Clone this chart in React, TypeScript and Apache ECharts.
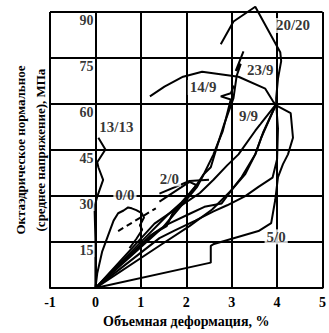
import React, { useEffect, useRef } from "react";
import * as echarts from "echarts";

const yTickValues = [15, 30, 45, 60, 75, 90];

const curve13_13 = [[0, 0], [0, 7.4], [0, 16], [-0.02, 26.6], [0.04, 29.8], [0.17, 35.3], [0.065, 39.4], [0.04, 41], [0.22, 45.2], [0.065, 49]];
const curve0_0 = [[0, 0], [0.04, 4.8], [0.15, 12], [0.3, 18], [0.4, 22], [0.5, 24.4], [0.62, 25.3], [0.72, 26.3], [0.8, 26], [0.9, 25.4], [1.02, 24.4], [1.07, 23], [0.98, 20.5], [1.03, 19], [0.9, 16], [0.75, 13]];
const curve0_0dash = [[0.5, 18.6], [1.33, 26]];
const curve2_0 = [[0, 0], [0.7, 10], [1.3, 17.9], [1.57, 20.2], [1.7, 24.4], [1.89, 27.6], [2.07, 30.8], [2.22, 33.6], [2.07, 34.6], [1.41, 28.2]];
const curve2_0b = [[1.41, 30.8], [2.07, 34.9], [2.5, 35.3]];
const curve5_0 = [[0, 0], [2.54, 8.3], [2.54, 13.8], [2.61, 14.4], [3.59, 18.6], [3.87, 21.2], [3.96, 28.8], [4.02, 36.2], [4.13, 40.4], [4.24, 43.6], [4.35, 49], [4.3, 57], [3.98, 59.6]];
const curveA = [[0, 0], [1.41, 13.8], [2.07, 20.2], [2.57, 25.6], [3.0, 32], [3.22, 36.2], [3.52, 43.6], [3.7, 51], [3.98, 60]];
const curveB = [[0, 0], [1.41, 16.3], [1.75, 18.8], [2.2, 22], [2.6, 25], [2.9, 27], [3.3, 30], [3.59, 33], [3.9, 36], [4.0, 42], [4.02, 52], [3.98, 60]];
const curveC = [[0, 0], [1.2, 17], [1.55, 20.5], [2.1, 24.4], [2.4, 26.5], [2.78, 27.6], [3.0, 32], [3.3, 37.2], [3.52, 43.6], [3.65, 49], [3.98, 60]];
const curve9_9 = [[0, 0], [1.3, 21], [1.75, 25.6], [2.0, 28], [2.3, 31], [2.6, 35.3], [2.9, 40], [3.15, 43.6], [3.52, 51.3], [3.98, 60]];
const curve14_9a = [[0, 0], [1.0, 15], [1.6, 24], [1.9, 28], [2.2, 33], [2.4, 37.5], [2.6, 43.6], [2.7, 47.4], [2.8, 51], [2.98, 61.5], [2.76, 62.5], [2.98, 63.5], [3.05, 66]];
const curve14_9 = [[1.2, 62.5], [1.52, 65.7], [1.93, 68.9], [2.35, 70.5], [3.15, 68.9], [3.74, 65], [3.91, 60.9], [3.98, 59.6]];
const curve23_9 = [[0, 0], [0.9, 12], [1.5, 20], [2.0, 28.8], [2.24, 33], [2.39, 37.2], [2.54, 39.4], [2.67, 45.8], [2.83, 53.2], [3.04, 61.9], [3.11, 69.2], [3.2, 73.1], [3.09, 70.8], [3.26, 77.2]];
const curve20_20 = [[3.98, 59.6], [3.98, 61.9], [4.02, 68.3], [4.09, 74], [4.07, 76.9], [3.52, 91.7], [3.04, 86.9], [2.76, 79.5]];

const curveLabels: [number, number, string][] = [
  [0.46, 52.6, "13/13"],
  [0.65, 30.4, "0/0"],
  [1.63, 35.6, "2/0"],
  [2.37, 65.4, "14/9"],
  [3.63, 71.2, "23/9"],
  [4.35, 85.6, "20/20"],
  [3.37, 56.1, "9/9"],
  [3.98, 16.7, "5/0"],
];

const FONT = "Times New Roman, Liberation Serif, DejaVu Serif, serif";

export default function App() {
  const ref = useRef<HTMLDivElement>(null);
  useEffect(() => {
    if (!ref.current) return;
    const chart = echarts.init(ref.current, null, { renderer: "svg" });
    const lineStyle = { color: "#000", width: 2 };
    const mk = (data: number[][], dashed = false) => ({
      type: "line",
      data,
      showSymbol: false,
      symbol: "none",
      clip: false,
      lineStyle: dashed ? { ...lineStyle, type: [6, 4] } : lineStyle,
      z: 3,
      silent: true,
    });
    chart.setOption({
      animation: false,
      textStyle: { fontFamily: FONT },
      grid: { left: 50, right: 3, top: 12, bottom: 40 },
      xAxis: {
        type: "value",
        min: -1,
        max: 5,
        interval: 1,
        name: "Объемная деформация, %",
        nameLocation: "middle",
        nameGap: 25,
        nameTextStyle: { fontFamily: FONT, fontWeight: "bold", fontSize: 14, color: "#000" },
        axisLine: { show: true, lineStyle: { color: "#000", width: 2 } },
        axisTick: { show: false },
        axisLabel: { fontFamily: FONT, fontWeight: "bold", fontSize: 14, color: "#000", margin: 7 },
        splitLine: { show: true, lineStyle: { color: "#000", width: 2 } },
      },
      yAxis: {
        type: "value",
        min: 0,
        max: 90,
        interval: 15,
        name: "Октаэдрическое нормальное\n(среднее напряжение), МПа",
        nameLocation: "middle",
        nameRotate: 90,
        nameGap: 0,
        nameTextStyle: { fontFamily: FONT, fontWeight: "bold", fontSize: 13, color: "#000", lineHeight: 20 },
        axisLine: { show: true, lineStyle: { color: "#000", width: 2 } },
        axisTick: { show: false },
        axisLabel: { show: false },
        splitLine: { show: true, lineStyle: { color: "#000", width: 2 } },
      },
      series: [
        mk(curve13_13),
        mk(curve0_0),
        mk(curve0_0dash, true),
        mk(curve2_0),
        mk(curve2_0b),
        mk(curve5_0),
        mk(curveA),
        mk(curveB),
        mk(curveC),
        mk(curve9_9),
        mk(curve14_9a),
        mk(curve14_9),
        mk(curve23_9),
        mk(curve20_20),
        {
          type: "scatter",
          data: yTickValues.map((v) => [0, v]),
          symbolSize: 0,
          silent: true,
          clip: false,
          z: 5,
          label: {
            show: true,
            position: "left",
            distance: 1,
            offset: [0, 8],
            formatter: (p: any) => String(p.value[1]),
            fontFamily: FONT,
            fontWeight: "bold",
            fontSize: 14,
            color: "#000",
            backgroundColor: "#fff",
            padding: [0, 1],
          },
        },
        {
          type: "scatter",
          data: curveLabels,
          symbolSize: 0,
          silent: true,
          clip: false,
          z: 6,
          label: {
            show: true,
            position: "inside",
            formatter: (p: any) => p.value[2],
            fontFamily: FONT,
            fontWeight: "bold",
            fontSize: 15,
            color: "#000",
            backgroundColor: "#fff",
            padding: [0, 2],
          },
        },
      ],
    });
    return () => chart.dispose();
  }, []);
  return (
    <div
      ref={ref}
      style={{ position: "absolute", left: 0, top: 0, width: 329, height: 333, background: "#fff" }}
    />
  );
}
